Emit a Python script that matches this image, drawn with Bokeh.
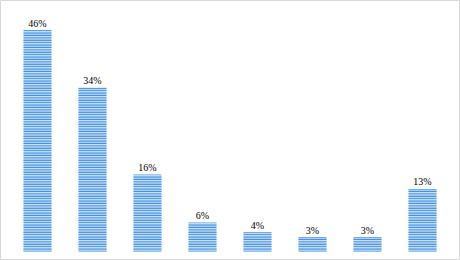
from bokeh.plotting import figure
from bokeh.models import ColumnDataSource, Range1d
from bokeh.embed import file_html
from bokeh.resources import INLINE
from bokeh.core.properties import value

idx = [0, 1, 2, 3, 4, 5, 6, 7]
shares = [46, 34, 16, 6, 4, 3, 3, 13]
labels = ["46%", "34%", "16%", "6%", "4%", "3%", "3%", "13%"]

src = ColumnDataSource(dict(x=idx, y=shares, lab=labels))

p = figure(width=460, height=260, output_backend="svg", toolbar_location=None,
           x_range=Range1d(-0.6727, 7.6909), y_range=Range1d(-1.87, 52.13),
           min_border=0, min_border_left=0, min_border_right=0,
           min_border_top=0, min_border_bottom=0)
p.xaxis.visible = False
p.yaxis.visible = False
p.grid.visible = False
p.outline_line_color = "#d9d9d9"
p.outline_line_width = 1
p.background_fill_color = "white"
p.border_fill_color = "white"

p.vbar(x="x", top="y", bottom=0, width=0.51, source=src,
       fill_color="#d2e5f9", line_color=None,
       hatch_pattern="horizontal_line", hatch_scale=2.4, hatch_weight=1.9,
       hatch_color="#3a8ce0")

p.text(x="x", y="y", text="lab", source=src, text_align="center",
       text_baseline="alphabetic", y_offset=-7,
       text_font=value("Liberation Serif"), text_font_size="10px",
       text_color="black")

open("out.html", "w").write(file_html(p, INLINE))
